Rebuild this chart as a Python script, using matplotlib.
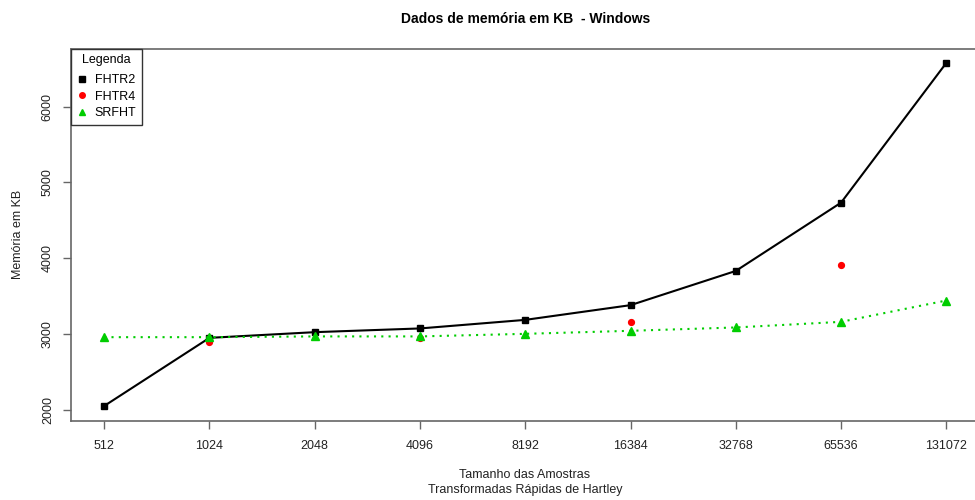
import matplotlib
matplotlib.use("Agg")
import matplotlib.pyplot as plt
from matplotlib.lines import Line2D

plt.rcParams['font.family'] = ['Liberation Sans', 'DejaVu Sans']

tamanhos = ["512", "1024", "2048", "4096", "8192", "16384", "32768", "65536", "131072"]
fhtr2 = [2053, 2951, 3026, 3075, 3188, 3382, 3833, 4733, 6575]
srfht = [2960, 2960, 2970, 2970, 3004, 3044, 3088, 3162, 3443]
fhtr4_idx = [1, 3, 5, 7]
fhtr4 = [2900, 2945, 3158, 3908]

verde = "#00CD00"
cinza = "#666666"
texto = "#222222"

fig = plt.figure(figsize=(9.75, 5.0), dpi=100)
ax = fig.add_axes([70.5 / 975, 1 - 420.7 / 500, (980 - 70.5) / 975, (420.7 - 48.5) / 500])

x = list(range(len(tamanhos)))
ax.plot(x, fhtr2, color="black", lw=1.5, marker="s", ms=4.5, zorder=3)
ax.plot(fhtr4_idx, fhtr4, ls="none", color="red", marker="o", ms=4.2, zorder=4)
ax.plot(x, srfht, color=verde, lw=1.5, ls=(0, (1, 2.5)), marker="^", ms=5.4, zorder=5)

ax.set_xlim(-0.32, 8.32)
ax.set_ylim(1859, 6765)
ax.set_xticks(x)
ax.set_xticklabels(tamanhos)
ax.set_yticks([2000, 3000, 4000, 5000, 6000])
ax.set_yticklabels(["2000", "3000", "4000", "5000", "6000"], rotation=90, va="center")

for s in ax.spines.values():
    s.set_color(cinza)
    s.set_linewidth(1.2)
ax.tick_params(axis="both", length=6, width=1, color=cinza, labelsize=9, labelcolor=texto)
ax.tick_params(axis="x", pad=8)
ax.tick_params(axis="y", pad=6)

ax.set_title("Dados de memória em KB  - Windows", fontsize=10, fontweight="bold", pad=18.5)
fig.text(525 / 975, 1 - 475 / 500, "Tamanho das Amostras", ha="center", va="center", fontsize=9, color=texto)
fig.text(525 / 975, 1 - 490 / 500, "Transformadas Rápidas de Hartley", ha="center", va="center", fontsize=9, color=texto)
fig.text(18 / 975, 1 - 234 / 500, "Memória em KB", rotation=90, ha="center", va="center", fontsize=9, color=texto)

handles = [
    Line2D([], [], ls="none", marker="s", color="black", ms=4),
    Line2D([], [], ls="none", marker="o", color="red", ms=4),
    Line2D([], [], ls="none", marker="^", color=verde, ms=5),
]
leg = ax.legend(handles, ["FHTR2", "FHTR4", "SRFHT"], title="Legenda", loc="upper left",
                bbox_to_anchor=(0.001, 1), borderaxespad=0, fancybox=False, framealpha=1,
                edgecolor="#333333", fontsize=9, title_fontsize=9, handlelength=0.8,
                handletextpad=0.6, labelspacing=0.35, borderpad=0.45)
leg.get_frame().set_linewidth(1.0)
leg._legend_box.sep = 6

fig.savefig("out.png", dpi=100)
